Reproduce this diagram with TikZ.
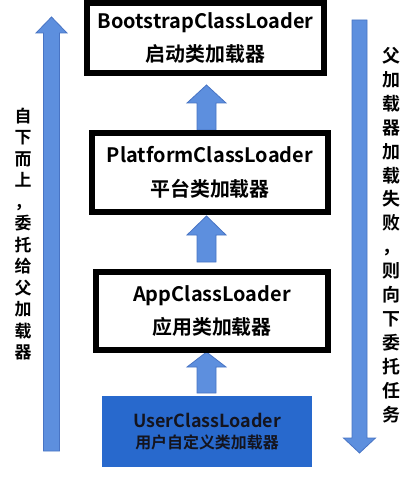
\documentclass[tikz,border=0pt]{standalone}
\usepackage{fontspec}
\newfontfamily\cjk{Noto Sans CJK SC}[BoldFont={Noto Sans CJK SC Bold}]
\usepackage{tikz}
\usetikzlibrary{positioning, calc}
\definecolor{arrfill}{RGB}{93,143,222}
\definecolor{arredge}{RGB}{72,116,196}
\definecolor{userblue}{RGB}{40,105,205}
\definecolor{usertext}{RGB}{20,20,30}
\tikzset{
  loader/.style={rectangle, draw=black, fill=white, line width=6bp,
    inner sep=0pt, align=center, font=\cjk\bfseries\fontsize{20}{34}\selectfont},
  userloader/.style={rectangle, fill=userblue, text=usertext, inner sep=0pt, align=center,
    font=\cjk\bfseries\fontsize{16}{21}\selectfont},
  sidetext/.style={align=center, inner sep=0pt, text width=20bp},
  bigarrow/.style={fill=arrfill, draw=arredge, line width=0.8bp}
}
% block arrow: x, tail y, head base y, tip y, shaft half width, head half width
\newcommand{\blockarrow}[6]{%
  \draw[bigarrow] ({#1-#5},#2) -- ({#1-#5},#3) -- ({#1-#6},#3) -- (#1,#4)
    -- ({#1+#6},#3) -- ({#1+#5},#3) -- ({#1+#5},#2) -- cycle;}
\begin{document}
\begin{tikzpicture}[x=1bp, y=-1bp]
  \useasboundingbox (0,0) rectangle (411,485);

  % arrows between the loaders
  \blockarrow{206.5}{130}{103}{85}{9.5}{19.5}
  \blockarrow{206.5}{262}{235}{216}{9.5}{19.5}
  \blockarrow{206.5}{393}{367}{352}{9.5}{19.5}

  % delegation up / down
  \blockarrow{51.5}{451}{33}{17}{8}{15.5}
  \blockarrow{359.5}{20}{438}{453}{7.5}{16}

  % loaders
  \node[loader, minimum width=237bp, minimum height=70bp] (boot) at (205.5,38)
    {BootstrapClassLoader\\启动类加载器};
  \node[loader, minimum width=236bp, minimum height=79bp] (plat) at (210,172.5)
    {PlatformClassLoader\\平台类加载器};
  \node[loader, minimum width=232bp, minimum height=78bp] (app) at (212,311)
    {AppClassLoader\\应用类加载器};
  \node[userloader, minimum width=210bp, minimum height=71bp] (user) at (207,431.5)
    {{\fontsize{18}{21}\selectfont UserClassLoader}\\用户自定义类加载器};

  % side labels
  \node[sidetext, font=\cjk\bfseries\fontsize{17}{21.6}\selectfont] (upText) at (23,234)
    {自\\下\\而\\上\\，\\委\\托\\给\\父\\加\\载\\器};
  \node[sidetext, font=\cjk\bfseries\fontsize{18}{24}\selectfont] (downText) at (391,235)
    {父\\加\\载\\器\\加\\载\\失\\败\\，\\则\\向\\下\\委\\托\\任\\务};
\end{tikzpicture}
\end{document}
